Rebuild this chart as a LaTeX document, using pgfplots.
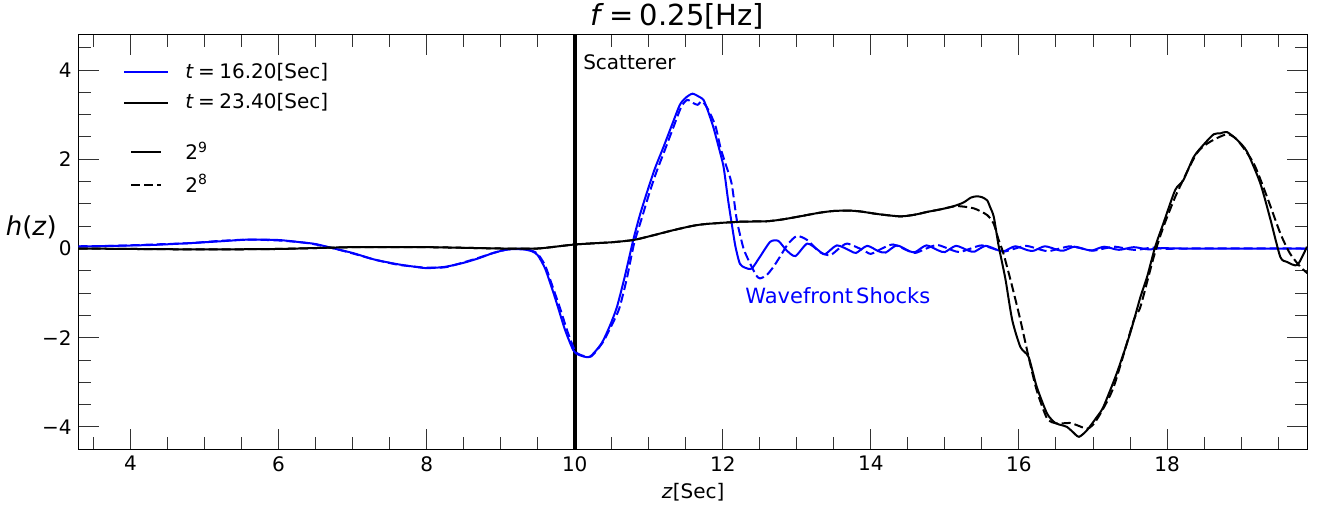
\documentclass[border=0pt]{standalone}
\usepackage{pgfplots}
\pgfplotsset{compat=1.18}
\usepackage{fontspec}
\setmainfont{DejaVu Sans}
\definecolor{pblue}{RGB}{0,0,255}
\begin{document}
\begin{tikzpicture}
\useasboundingbox (-39.35pt,-30.65pt) rectangle (622.15pt,224.65pt);
\begin{axis}[
  at={(0,0)}, anchor=south west,
  scale only axis, width=614.5pt, height=207.5pt,
  xmin=3.3, xmax=19.9, ymin=-4.5, ymax=4.8,
  axis line style={line width=0.75pt},
  xtick={4,6,8,10,12,14,16,18},
  xticklabels={4,6,8,10,12,14,16,18},
  ytick={-4,-2,0,2,4},
  yticklabels={−4,−2,0,2,4},
  minor xtick={3.5,4.5,5,5.5,6.5,7,7.5,8.5,9,9.5,10.5,11,11.5,12.5,13,13.5,14.5,15,15.5,16.5,17,17.5,18.5,19,19.5},
  minor ytick={-3.5,-3,-2.5,-1.5,-1,-0.5,0.5,1,1.5,2.5,3,3.5,4.5},
  tick align=inside, tick pos=both,
  major tick length=10.3pt, minor tick length=6.2pt,
  every tick/.style={black!80, line width=0.5pt},
  ticklabel style={font=\fontsize{10}{12}\selectfont},
  legend style={at={(axis description cs:0.036,0.931)}, anchor=north west, draw=none, fill=none,
    inner sep=0pt, row sep=6pt, column sep=8pt, font=\fontsize{10}{12}\selectfont,
    nodes={inner sep=0pt}},
  legend cell align=left,
  legend image code/.code={\draw[#1] (0pt,0pt) -- (22pt,0pt);},
  clip mode=individual,
]
\addlegendimage{pblue, line width=1pt}
\addlegendentry{\textit{t}\hspace{0.22em}=\hspace{0.22em}16.20[Sec]}
\addlegendimage{black, line width=1pt}
\addlegendentry{\textit{t}\hspace{0.22em}=\hspace{0.22em}23.40[Sec]}

% scatterer
\addplot[black, line width=1.8pt, forget plot] coordinates {(10,-4.5) (10,4.8)};

% blue solid, t=16.2, 2^9
\addplot[pblue, line width=1pt, smooth, tension=0.4, forget plot] coordinates {
(3.3,0.04) (3.8,0.06) (4.3,0.08) (4.8,0.12) (5.2,0.16) (5.6,0.20) (6.0,0.19) (6.3,0.14) (6.5,0.10)
(6.75,0.00) (7.0,-0.10) (7.3,-0.25) (7.6,-0.35) (7.8,-0.40) (8.0,-0.44) (8.25,-0.41) (8.5,-0.32)
(8.7,-0.22) (8.9,-0.10) (9.1,-0.02) (9.3,-0.02) (9.42,-0.06) (9.5,-0.15) (9.6,-0.45) (9.7,-0.93)
(9.78,-1.35) (9.87,-1.83) (9.98,-2.28) (10.05,-2.38) (10.2,-2.43) (10.36,-2.13) (10.47,-1.75)
(10.57,-1.31) (10.68,-0.6) (10.79,0.19) (10.88,0.75) (10.97,1.23) (11.08,1.78) (11.2,2.28)
(11.32,2.8) (11.42,3.22) (11.5,3.38) (11.59,3.47) (11.68,3.40) (11.74,3.33) (11.8,3.08)
(11.87,2.73) (11.94,2.3) (12.01,1.83) (12.07,1.1) (12.12,0.56) (12.17,0.05) (12.23,-0.34)
(12.3,-0.43) (12.39,-0.45) (12.50,-0.19) (12.64,0.15) (12.75,0.17) (12.86,-0.04) (12.98,-0.17)
(13.14,0.11) (13.29,-0.04) (13.38,-0.13) (13.54,0.07) (13.72,-0.05) (13.80,-0.10) (13.95,0.06)
(14.10,-0.06) (14.20,-0.09) (14.35,0.07) (14.52,-0.06) (14.6,-0.08) (14.75,0.07) (14.92,-0.05)
(15.0,-0.08) (15.15,0.06) (15.32,-0.05) (15.4,-0.07) (15.55,0.06) (15.72,-0.04) (15.8,-0.06)
(15.95,0.05) (16.12,-0.04) (16.2,-0.05) (16.35,0.05) (16.52,-0.03) (16.6,-0.05) (16.75,0.04)
(16.92,-0.03) (17.0,-0.04) (17.15,0.04) (17.35,-0.03) (17.55,0.03) (17.75,-0.02) (17.95,0.01) (18.2,0.0) (19.9,0.0)
};
% blue dashed, t=16.2, 2^8
\addplot[pblue, line width=1pt, dash pattern=on 4.5pt off 2pt, smooth, tension=0.4, forget plot] coordinates {
(3.3,0.05) (3.8,0.06) (4.3,0.09) (4.8,0.12) (5.2,0.17) (5.6,0.20) (6.0,0.18) (6.3,0.14) (6.5,0.09)
(6.75,0.0) (7.0,-0.11) (7.3,-0.25) (7.6,-0.36) (7.8,-0.40) (8.0,-0.43) (8.25,-0.42) (8.5,-0.31)
(8.7,-0.21) (8.9,-0.10) (9.1,-0.02) (9.3,-0.01) (9.42,-0.05) (9.5,-0.12) (9.6,-0.38) (9.7,-0.85)
(9.8,-1.33) (9.9,-1.85) (10.0,-2.28) (10.07,-2.38) (10.22,-2.42) (10.38,-2.1) (10.49,-1.75)
(10.6,-1.35) (10.7,-0.7) (10.8,0.1) (10.9,0.65) (11.0,1.2) (11.1,1.7) (11.22,2.22) (11.34,2.75)
(11.44,3.18) (11.52,3.33) (11.6,3.26) (11.66,3.22) (11.72,3.30) (11.8,3.12) (11.9,2.75)
(11.97,2.25) (12.05,1.83) (12.12,1.45) (12.19,0.63) (12.28,0.0) (12.37,-0.34) (12.45,-0.6)
(12.50,-0.67) (12.59,-0.60) (12.68,-0.42) (12.77,-0.19) (12.88,0.1) (13.0,0.28) (13.14,0.19)
(13.31,-0.08) (13.45,-0.15) (13.57,0.0) (13.68,0.11) (13.90,-0.04) (14.0,-0.12) (14.15,0.0)
(14.3,0.09) (14.5,-0.05) (14.6,-0.1) (14.75,0.0) (14.9,0.08) (15.1,-0.04) (15.2,-0.08) (15.35,0.0)
(15.5,0.07) (15.7,-0.03) (15.8,-0.07) (15.95,0.0) (16.1,0.06) (16.3,-0.03) (16.4,-0.06) (16.55,0.0)
(16.7,0.05) (16.9,-0.02) (17.0,-0.05) (17.15,0.0) (17.3,0.04) (17.5,-0.02) (17.6,-0.03) (17.8,0.02) (18.0,-0.01) (18.25,0.0) (19.9,0.0)
};
% black solid, t=23.4, 2^9
\addplot[black, line width=1pt, smooth, tension=0.4, forget plot] coordinates {
(3.3,0.0) (4.0,-0.01) (5.0,-0.02) (6.0,-0.01) (7.0,0.03) (8.0,0.03) (9.0,0.0) (9.5,0.0) (10.0,0.09)
(10.5,0.14) (10.79,0.19) (11.0,0.27) (11.33,0.41) (11.6,0.51) (11.78,0.55) (12.23,0.60) (12.59,0.61)
(12.8,0.65) (13.04,0.72) (13.3,0.80) (13.49,0.84) (13.7,0.85) (13.86,0.83) (14.1,0.77) (14.4,0.72)
(14.6,0.76) (14.76,0.82) (14.95,0.88) (15.12,0.95) (15.25,1.03) (15.35,1.14) (15.43,1.17) (15.5,1.15)
(15.57,1.08) (15.61,0.93) (15.66,0.71) (15.72,0.11) (15.77,-0.3) (15.82,-0.71) (15.91,-1.61)
(16.02,-2.21) (16.13,-2.43) (16.24,-3.10) (16.38,-3.70) (16.49,-3.91) (16.58,-3.96) (16.65,-4.0)
(16.72,-4.1) (16.81,-4.22) (16.92,-4.07) (17.05,-3.78) (17.14,-3.55) (17.32,-2.80) (17.50,-1.91)
(17.64,-1.09) (17.73,-0.64) (17.84,0.04) (17.95,0.56) (18.11,1.31) (18.22,1.53) (18.36,2.05)
(18.49,2.32) (18.63,2.56) (18.72,2.58) (18.81,2.61) (18.95,2.43) (19.08,2.17) (19.26,1.46)
(19.40,0.63) (19.53,-0.19) (19.62,-0.30) (19.76,-0.37) (19.89,0.04)
};
% black dashed, t=23.4, 2^8
\addplot[black, line width=1pt, dash pattern=on 4.5pt off 2pt, smooth, tension=0.4, forget plot] coordinates {
(3.3,0.0) (4.0,-0.01) (5.0,-0.02) (6.0,-0.01) (7.0,0.03) (8.0,0.03) (9.0,0.0) (9.5,0.0) (10.0,0.09)
(10.5,0.14) (10.79,0.19) (11.0,0.27) (11.33,0.41) (11.6,0.51) (11.78,0.55) (12.23,0.60) (12.59,0.61)
(12.8,0.65) (13.04,0.72) (13.3,0.80) (13.49,0.84) (13.7,0.85) (13.86,0.83) (14.1,0.77) (14.4,0.72)
(14.6,0.76) (14.76,0.82) (14.95,0.88) (15.16,0.95) (15.39,0.90) (15.57,0.75) (15.66,0.55)
(15.72,0.22) (15.79,-0.11) (15.91,-0.86) (16.02,-1.61) (16.13,-2.43) (16.24,-3.18) (16.38,-3.81)
(16.51,-3.92) (16.69,-3.91) (16.8,-3.97) (16.92,-4.04) (17.0,-3.95) (17.10,-3.70) (17.28,-3.10)
(17.55,-1.61) (17.64,-1.31) (17.82,-0.19) (17.95,0.48) (18.13,1.23) (18.4,2.13) (18.58,2.39)
(18.81,2.56) (18.95,2.43) (19.17,1.91) (19.35,1.16) (19.53,0.34) (19.66,-0.11) (19.80,-0.41) (19.9,-0.56)
};

\node[anchor=west, font=\fontsize{10}{12}\selectfont, inner sep=0pt] at (axis cs:10.11,4.18) {Scatterer};
\node[anchor=west, font=\fontsize{10.5}{12}\selectfont, text=pblue, inner sep=0pt] at (axis cs:12.3,-1.05) {Wavefront\hspace{0.15em}Shocks};
\node[anchor=base, font=\fontsize{14.5}{16}\selectfont, inner sep=0pt] at ([yshift=4.65pt]axis description cs:0.487,1) {\textit{f}\hspace{0.2em}=\hspace{0.2em}0.25[Hz]};
\node[anchor=base east, font=\fontsize{13}{15}\selectfont, inner sep=0pt] at ([xshift=-10.8pt]axis description cs:0,0.515) {\textit{h}(\textit{z})};
\node[anchor=base, font=\fontsize{10}{12}\selectfont, inner sep=0pt] at ([yshift=-24.6pt]axis description cs:0.5,0) {\textit{z}[Sec]};
\end{axis}
\begin{axis}[
  at={(0,0)}, anchor=south west,
  scale only axis, width=614.5pt, height=207.5pt,
  xmin=3.3, xmax=19.9, ymin=-4.5, ymax=4.8,
  hide axis,
  legend style={at={(axis description cs:0.0417,0.742)}, anchor=north west, draw=none, fill=none,
    inner sep=0pt, row sep=6pt, column sep=11.5pt, font=\fontsize{10}{12}\selectfont,
    nodes={inner sep=0pt}},
  legend cell align=left,
  legend image code/.code={\draw[#1] (0pt,0pt) -- (15pt,0pt);},
]
\addlegendimage{black, line width=1pt}
\addlegendentry{2\textsuperscript{9}}
\addlegendimage{black, line width=1pt, dash pattern=on 4.5pt off 2pt}
\addlegendentry{2\textsuperscript{8}}
\end{axis}
\end{tikzpicture}
\end{document}
